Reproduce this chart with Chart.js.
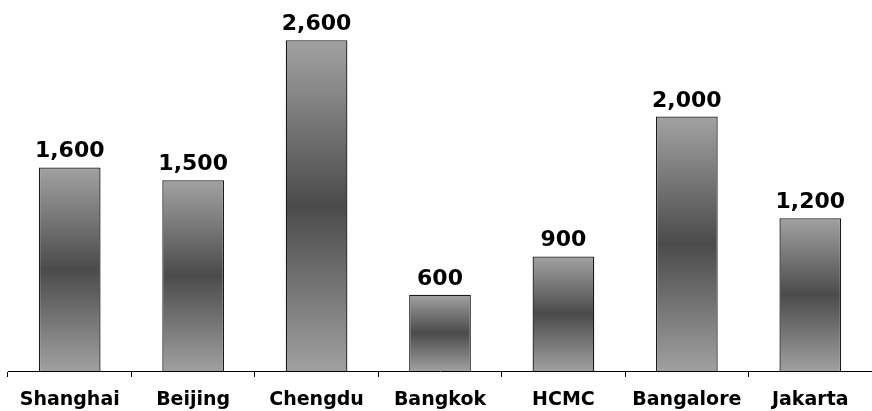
<!DOCTYPE html>
<html>
<head>
<meta charset="utf-8">
<script src="https://cdn.jsdelivr.net/npm/chart.js@4"></script>
<style>
  html, body { margin: 0; padding: 0; background: #fff; }
  #wrap { width: 872px; height: 411px; }
</style>
</head>
<body>
<div id="wrap"><canvas id="chart"></canvas></div>
<script>
var cities = ["Shanghai", "Beijing", "Chengdu", "Bangkok", "HCMC", "Bangalore", "Jakarta"];
var values = [1600, 1500, 2600, 600, 900, 2000, 1200];

// bar gradient: light at top and bottom, dark in the middle
function barFill(ctx) {
  var y = ctx.chart.scales.y;
  if (!y || !ctx.chart.chartArea || ctx.raw === undefined) return '#777';
  var top = y.getPixelForValue(ctx.raw);
  var base = y.getPixelForValue(0);
  if (!isFinite(top) || !isFinite(base) || top === base) return '#777';
  var g = ctx.chart.ctx.createLinearGradient(0, top, 0, base);
  g.addColorStop(0, '#a2a2a2');
  g.addColorStop(0.5, '#4b4b4b');
  g.addColorStop(1, '#a0a0a0');
  return g;
}

// value labels above bars
var topLabels = {
  id: 'topLabels',
  afterDatasetsDraw: function (chart) {
    var c = chart.ctx;
    var meta = chart.getDatasetMeta(0);
    c.save();
    c.font = 'bold 22px "DejaVu Sans", Verdana, sans-serif';
    c.fillStyle = '#000';
    c.textAlign = 'center';
    c.textBaseline = 'alphabetic';
    meta.data.forEach(function (bar, i) {
      c.fillText(values[i].toLocaleString('en-US'), bar.x, bar.y - 10);
    });
    c.restore();
  }
};

new Chart(document.getElementById('chart'), {
  type: 'bar',
  data: {
    labels: cities,
    datasets: [{
      data: values,
      backgroundColor: barFill,
      borderColor: '#1a1a1a',
      borderWidth: 1.3,
      barPercentage: 0.5,
      categoryPercentage: 1.0
    }]
  },
  options: {
    responsive: true,
    maintainAspectRatio: false,
    animation: false,
    layout: { padding: { left: 8, right: 0, top: 2, bottom: 0 } },
    plugins: { legend: { display: false }, tooltip: { enabled: false } },
    scales: {
      y: {
        display: false,
        min: 0,
        max: 2900
      },
      x: {
        afterFit: function (scale) { scale.height = 40; },
        grid: {
          offset: true,
          drawOnChartArea: false,
          color: '#000',
          tickLength: 6
        },
        border: { color: '#000', width: 1 },
        ticks: {
          color: '#000',
          padding: 13,
          font: { family: '"DejaVu Sans", Verdana, sans-serif', size: 19, weight: 'bold', lineHeight: 1.1 }
        }
      }
    }
  },
  plugins: [topLabels]
});
</script>
</body>
</html>
